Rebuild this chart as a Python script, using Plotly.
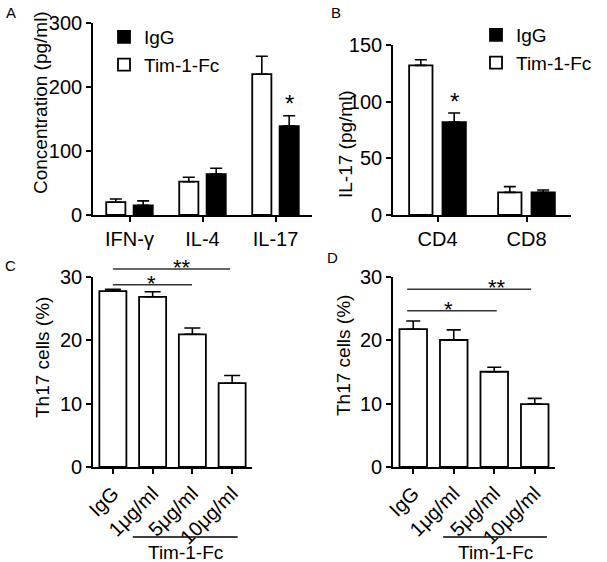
import plotly.graph_objects as go

FONT = "Arial, 'Liberation Sans', Helvetica, sans-serif"
W, H = 607, 562

# ---------------- data ----------------
# Panel A
a_categories = ["IFN-γ", "IL-4", "IL-17"]
a_tim = [20, 52, 220]
a_tim_err = [5, 7, 28]
a_igg = [15, 64, 139]
a_igg_err = [7, 9, 16]
a_yticks = [0, 100, 200, 300]

# Panel B
b_categories = ["CD4", "CD8"]
b_tim = [132, 20]
b_tim_err = [5, 5]
b_igg = [82, 20]
b_igg_err = [8, 2]
b_yticks = [0, 50, 100, 150]

# Panels C and D
cd_categories = ["IgG", "1μg/ml", "5μg/ml", "10μg/ml"]
c_values = [27.7, 26.8, 20.9, 13.2]
c_err = [0.3, 0.8, 1.0, 1.2]
d_values = [21.7, 20.0, 15.0, 9.9]
d_err = [1.3, 1.6, 0.7, 0.9]
cd_yticks = [0, 10, 20, 30]

# significance brackets: (start category, end category, height, star x, label)
c_sig = [(0.0, 1.99, 28.7, 0.98, "*"), (0.0, 2.95, 31.2, 1.74, "**")]
d_sig = [(-0.15, 2.06, 24.6, 0.87, "*"), (-0.15, 2.91, 28.0, 2.34, "**")]

# ---------------- helpers ----------------
def px_x(p):
    return p / W

def px_y(p):
    return 1 - p / H

def err(arr, w=6):
    return dict(type="data", symmetric=False, array=arr, arrayminus=[0] * len(arr),
                color="black", thickness=1.6, width=w)

LINE = dict(color="black", width=1.8)
fig = go.Figure()

# Panel A
fig.add_trace(go.Bar(x=a_categories, y=a_tim, name="Tim-1-Fc", marker=dict(color="white", line=LINE),
                     error_y=err(a_tim_err), xaxis="x", yaxis="y", legend="legend", legendrank=2))
fig.add_trace(go.Bar(x=a_categories, y=a_igg, name="IgG", marker=dict(color="black", line=LINE),
                     error_y=err(a_igg_err), xaxis="x", yaxis="y", legend="legend", legendrank=1))
# Panel B
fig.add_trace(go.Bar(x=b_categories, y=b_tim, name="Tim-1-Fc", marker=dict(color="white", line=LINE),
                     error_y=err(b_tim_err), xaxis="x2", yaxis="y2", legend="legend2", legendrank=2))
fig.add_trace(go.Bar(x=b_categories, y=b_igg, name="IgG", marker=dict(color="black", line=LINE),
                     error_y=err(b_igg_err), xaxis="x2", yaxis="y2", legend="legend2", legendrank=1))
# Panel C
fig.add_trace(go.Bar(x=cd_categories, y=c_values, width=0.68, marker=dict(color="white", line=LINE),
                     error_y=err(c_err, 8), xaxis="x3", yaxis="y3", showlegend=False))
# Panel D
fig.add_trace(go.Bar(x=cd_categories, y=d_values, width=0.68, marker=dict(color="white", line=LINE),
                     error_y=err(d_err, 7), xaxis="x4", yaxis="y4", showlegend=False))

axis_common = dict(showline=True, linecolor="black", linewidth=1.7, ticks="outside", ticklen=5, tickwidth=1.6,
                   tickcolor="black", showgrid=False, zeroline=False, automargin=False,
                   tickfont=dict(family=FONT, size=20, color="black"), fixedrange=True)

def xax(domain, n, anchor, angle=0):
    d = dict(axis_common)
    d.update(domain=domain, range=[-0.5, n - 0.5], type="category", anchor=anchor, tickangle=angle)
    return d

def yax(domain, rng, ticks, anchor):
    d = dict(axis_common)
    d.update(domain=domain, range=rng, tickvals=ticks, anchor=anchor)
    return d

fig.update_layout(
    width=W, height=H, margin=dict(l=0, r=0, t=0, b=0, autoexpand=False),
    paper_bgcolor="white", plot_bgcolor="white",
    barmode="group", bargap=0.25, bargroupgap=0.3,
    font=dict(family=FONT, size=18, color="black"),
    xaxis=xax([px_x(93), px_x(312)], 3, "y"),
    yaxis=yax([px_y(215), px_y(23)], [0, 300], a_yticks, "x"),
    xaxis2=xax([px_x(393), px_x(571)], 2, "y2"),
    yaxis2=yax([px_y(215), px_y(45)], [0, 150], b_yticks, "x2"),
    xaxis3=xax([px_x(93), px_x(252)], 4, "y3", -45),
    yaxis3=yax([px_y(467), px_y(276.5)], [0, 30], cd_yticks, "x3"),
    xaxis4=xax([px_x(393), px_x(555)], 4, "y4", -45),
    yaxis4=yax([px_y(467), px_y(276.5)], [0, 30], cd_yticks, "x4"),
    legend=dict(x=px_x(104), y=px_y(18), xanchor="left", yanchor="top", bgcolor="rgba(0,0,0,0)",
                font=dict(family=FONT, size=19), tracegroupgap=0),
    legend2=dict(x=px_x(476), y=px_y(16), xanchor="left", yanchor="top", bgcolor="rgba(0,0,0,0)",
                 font=dict(family=FONT, size=19), tracegroupgap=0),
)

ann = []
shapes = []
# panel letters
for txt, x, y in [("A", 11, 13), ("B", 336, 12), ("C", 10, 265), ("D", 333, 257)]:
    ann.append(dict(text=txt, x=px_x(x), y=px_y(y), xref="paper", yref="paper", showarrow=False,
                    font=dict(family=FONT, size=15), xanchor="center", yanchor="middle"))
# y titles
for txt, x, y in [("Concentration (pg/ml)", 40, 103), ("IL-17 (pg/ml)", 345, 144),
                  ("Th17 cells (%)", 43, 358), ("Th17 cells (%)", 343, 356)]:
    ann.append(dict(text=txt, x=px_x(x), y=px_y(y), xref="paper", yref="paper", showarrow=False, textangle=-90,
                    font=dict(family=FONT, size=19), xanchor="center", yanchor="middle"))

# star on panel A (IgG IL-17) and B (IgG CD4)
ann.append(dict(text="*", x=a_categories[2], y=175, xref="x", yref="y", xshift=14, showarrow=False,
                font=dict(family=FONT, size=24), yanchor="middle"))
ann.append(dict(text="*", x=b_categories[0], y=100, xref="x2", yref="y2", xshift=17, showarrow=False,
                font=dict(family=FONT, size=24), yanchor="middle"))

# significance brackets on C/D
for sig, ax, n in [(c_sig, "3", 4), (d_sig, "4", 4)]:
    for x0, x1, h, xs, lab in sig:
        shapes.append(dict(type="line", xref=f"x{ax} domain", yref=f"y{ax} domain",
                           x0=(x0 + 0.5) / n, x1=(x1 + 0.5) / n, y0=h / 30, y1=h / 30,
                           line=dict(color="#333", width=1.5)))
        ann.append(dict(text=lab, xref=f"x{ax} domain", yref=f"y{ax} domain", x=(xs + 0.5) / n, y=h / 30,
                        showarrow=False, font=dict(family=FONT, size=22), yanchor="bottom", yshift=-13))

# Tim-1-Fc group brackets under C/D
for ax, x0, x1 in [("3", 0.25, 0.91), ("4", 0.31, 0.95)]:
    shapes.append(dict(type="line", xref=f"x{ax} domain", yref=f"y{ax} domain", x0=x0, x1=x1,
                       y0=-0.367, y1=-0.367, line=dict(color="black", width=1.5)))
    ann.append(dict(text="Tim-1-Fc", xref=f"x{ax} domain", yref=f"y{ax} domain", x=(x0 + x1) / 2, y=-0.45,
                    showarrow=False, font=dict(family=FONT, size=19), xanchor="center", yanchor="middle"))

fig.update_layout(annotations=ann, shapes=shapes)
# place the figure at the page's top-left corner (no default body margin), no toolbar
fig.write_html("out.html", config={"displayModeBar": False},
               post_script="document.body.style.margin='0';")
